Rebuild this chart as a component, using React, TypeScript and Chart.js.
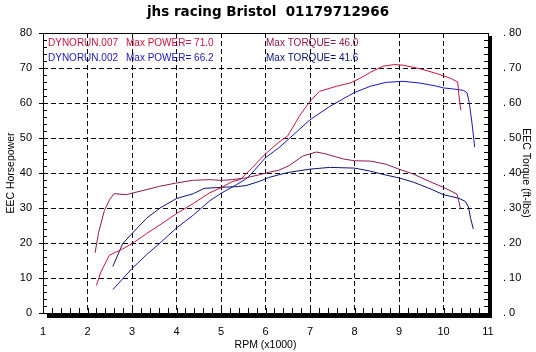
import React, { useEffect, useRef } from "react";
import { Chart, registerables } from "chart.js";

Chart.register(...registerables);

const TITLE = "jhs racing Bristol  01179712966";
const X_TITLE = "RPM (x1000)";
const Y_LEFT_TITLE = "EEC Horsepower";
const Y_RIGHT_TITLE = "EEC Torque (ft-lbs)";

const RUN_A = "DYNORUN.007";
const RUN_B = "DYNORUN.002";
const MAX_POWER_A = "71.0";
const MAX_POWER_B = "66.2";
const MAX_TORQUE_A = "46.0";
const MAX_TORQUE_B = "41.6";

// Run 007 (red)
const rpmPowerA = [2.2, 2.3, 2.49, 2.76, 3.0, 3.33, 3.63, 4.0, 4.38, 4.74, 5.0, 5.25, 5.44, 5.7, 6.0, 6.3, 6.5, 6.76, 7.0, 7.21, 7.6, 7.9, 8.13, 8.36, 8.64, 8.9, 9.09, 9.47, 9.85, 10.15, 10.32, 10.34, 10.39];
const powerA = [7.9, 11.7, 16.5, 18.1, 19.8, 22.7, 25.2, 28.4, 31.3, 34.3, 35.8, 37.5, 38.2, 41.5, 45.5, 48.8, 50.6, 56.2, 60.5, 63.3, 64.8, 65.7, 67.1, 68.8, 70.5, 71.0, 70.8, 69.8, 68.4, 67.1, 66.0, 62.9, 57.9];
const rpmTorqueA = [2.17, 2.25, 2.38, 2.5, 2.6, 2.87, 3.02, 3.25, 3.62, 3.98, 4.36, 4.74, 5.0, 5.26, 5.56, 5.86, 6.07, 6.3, 6.53, 6.83, 7.14, 7.37, 7.75, 8.0, 8.36, 8.71, 9.0, 9.32, 9.7, 10.0, 10.3, 10.34, 10.38];
const torqueA = [17.2, 23.0, 29.3, 32.5, 34.1, 33.8, 34.3, 35.0, 36.2, 37.1, 37.9, 38.1, 37.9, 38.1, 38.6, 39.5, 40.2, 40.8, 42.1, 44.8, 46.0, 45.4, 44.0, 43.5, 43.4, 42.5, 41.1, 39.7, 37.5, 35.9, 34.0, 32.2, 29.8];

// Run 002 (blue)
const rpmPowerB = [2.57, 3.0, 3.33, 3.63, 4.0, 4.38, 4.74, 5.0, 5.34, 5.55, 5.7, 6.0, 6.3, 6.53, 7.0, 7.44, 8.0, 8.36, 8.71, 9.09, 9.47, 9.85, 10.0, 10.23, 10.45, 10.53, 10.58, 10.64, 10.7];
const powerB = [6.7, 12.7, 16.7, 20.0, 24.3, 28.0, 32.0, 34.2, 36.6, 38.2, 40.0, 44.4, 47.2, 49.8, 55.2, 59.0, 63.0, 64.8, 65.9, 66.2, 65.7, 64.8, 64.3, 64.0, 63.6, 62.9, 60.0, 54.3, 47.4];
const rpmTorqueB = [2.57, 2.79, 3.0, 3.33, 3.63, 4.0, 4.38, 4.62, 5.0, 5.34, 5.56, 5.86, 6.07, 6.3, 6.53, 7.0, 7.44, 8.0, 8.33, 8.71, 9.0, 9.32, 9.7, 10.0, 10.34, 10.49, 10.56, 10.61, 10.67];
const torqueB = [13.3, 19.8, 22.7, 27.1, 30.0, 32.7, 34.1, 35.6, 35.9, 36.1, 36.4, 37.6, 38.7, 39.5, 40.2, 41.1, 41.6, 41.4, 40.6, 39.4, 38.6, 37.4, 35.5, 33.8, 32.8, 31.9, 30.3, 27.0, 24.0];

const X_MIN = 1;
const X_MAX = 11;
const Y_MIN = 0;
const Y_MAX = 80;

const C_POWER_A = "#c8143c";
const C_TORQUE_A = "#8c1850";
const C_POWER_B = "#1818b4";
const C_TORQUE_B = "#0c1470";

const FONT = "'Liberation Sans', Arial, sans-serif";

const pts = (xs: number[], ys: number[]) => xs.map((x, i) => ({ x, y: ys[i] }));

const decorPlugin = {
  id: "decor",
  afterDatasetsDraw(chart: any) {
    const { ctx, chartArea } = chart;
    const { left, right, top, bottom } = chartArea;
    const xs = chart.scales.x;
    const ys = chart.scales.y;
    ctx.save();
    ctx.strokeStyle = "#000";
    ctx.lineWidth = 1;
    ctx.setLineDash([]);
    // top and left frame
    ctx.beginPath();
    ctx.moveTo(left, top + 0.5);
    ctx.lineTo(right, top + 0.5);
    ctx.moveTo(left + 0.5, top);
    ctx.lineTo(left + 0.5, bottom);
    ctx.stroke();
    // minor ticks y (every 2)
    ctx.beginPath();
    for (let v = Y_MIN; v <= Y_MAX; v += 2) {
      const py = Math.round(ys.getPixelForValue(v)) + 0.5;
      ctx.moveTo(left, py);
      ctx.lineTo(left + 4, py);
      ctx.moveTo(right - 4, py);
      ctx.lineTo(right, py);
      if (v % 10 === 0) {
        ctx.moveTo(left - 4, py);
        ctx.lineTo(left, py);
      }
    }
    // minor ticks x (every 0.2)
    for (let i = 0; i <= (X_MAX - X_MIN) * 5; i++) {
      const px = Math.round(xs.getPixelForValue(X_MIN + i * 0.2)) + 0.5;
      ctx.moveTo(px, bottom - 5);
      ctx.lineTo(px, bottom);
    }
    ctx.stroke();
    // heavy shadow frame
    ctx.fillStyle = "#000";
    ctx.fillRect(right, top + 3, 4, bottom - top + 2);
    ctx.fillRect(left + 4, bottom, right - left, 5);

    // legend texts
    ctx.font = `10px ${FONT}`;
    ctx.textBaseline = "middle";
    ctx.textAlign = "left";
    const y1 = top + 10;
    const y2 = top + 25.5;
    ctx.fillStyle = C_POWER_A;
    ctx.fillText(RUN_A, left + 5, y1);
    ctx.fillText("Max POWER= " + MAX_POWER_A, left + 83, y1);
    ctx.fillStyle = C_TORQUE_A;
    ctx.fillText("Max TORQUE= " + MAX_TORQUE_A, left + 223, y1);
    ctx.fillStyle = C_POWER_B;
    ctx.fillText(RUN_B, left + 5, y2);
    ctx.fillText("Max POWER= " + MAX_POWER_B, left + 83, y2);
    ctx.fillStyle = C_TORQUE_B;
    ctx.fillText("Max TORQUE= " + MAX_TORQUE_B, left + 223, y2);
    ctx.restore();
  },
};

export default function App() {
  const ref = useRef<HTMLCanvasElement | null>(null);
  useEffect(() => {
    if (!ref.current) return;
    const gridOpts = {
      color: "#000",
      lineWidth: 1,
      drawTicks: false,
    };
    const chart = new Chart(ref.current, {
      type: "scatter",
      data: {
        datasets: [
          { label: "Power 007", data: pts(rpmPowerA, powerA), borderColor: C_POWER_A, yAxisID: "y" },
          { label: "Torque 007", data: pts(rpmTorqueA, torqueA), borderColor: C_TORQUE_A, yAxisID: "y2" },
          { label: "Power 002", data: pts(rpmPowerB, powerB), borderColor: C_POWER_B, yAxisID: "y" },
          { label: "Torque 002", data: pts(rpmTorqueB, torqueB), borderColor: C_TORQUE_B, yAxisID: "y2" },
        ].map((d) => ({ ...d, showLine: true, pointRadius: 0, borderWidth: 1, tension: 0, fill: false })),
      },
      options: {
        responsive: false,
        animation: false,
        layout: { padding: 0 },
        plugins: {
          legend: { display: false },
          tooltip: { enabled: false },
          title: {
            display: true,
            text: TITLE,
            color: "#000",
            font: { family: "'DejaVu Sans', sans-serif", size: 13.5, weight: "bold" },
            padding: { top: 4.5, bottom: 12.3 },
          },
        },
        scales: {
          x: {
            type: "linear",
            min: X_MIN,
            max: X_MAX,
            afterFit: (s: any) => { s.height = 39; },
            ticks: { stepSize: 1, color: "#000", padding: 12.5, font: { family: FONT, size: 11 } },
            grid: { ...gridOpts, borderDash: [5, 3] } as any,
            border: { display: false, dash: [5, 3] },
            title: { display: true, text: X_TITLE, color: "#000", font: { family: FONT, size: 10.5 }, padding: { top: 0, bottom: 1 } },
          },
          y: {
            type: "linear",
            position: "left",
            min: Y_MIN,
            max: Y_MAX,
            afterFit: (s: any) => { s.width = 43; },
            ticks: { stepSize: 10, color: "#000", padding: 11, font: { family: FONT, size: 11 } },
            grid: gridOpts as any,
            border: { display: false, dash: [5, 3] },
            title: { display: true, text: Y_LEFT_TITLE, color: "#000", font: { family: FONT, size: 10.5 }, padding: { top: 4.5, bottom: 0 } },
          },
          y2: {
            type: "linear",
            position: "right",
            min: Y_MIN,
            max: Y_MAX,
            afterFit: (s: any) => { s.width = 48; },
            ticks: { stepSize: 10, color: "#000", padding: 7, font: { family: FONT, size: 11 }, callback: (v: any) => ". " + v },
            grid: { display: false },
            border: { display: false },
            title: { display: true, text: Y_RIGHT_TITLE, color: "#000", font: { family: FONT, size: 10.5 }, padding: { top: 3.5, bottom: 0 } },
          },
        },
      },
      plugins: [decorPlugin],
    } as any);
    return () => chart.destroy();
  }, []);
  return (
    <div style={{ position: "fixed", left: 0, top: 0, width: 536, height: 352, background: "#fff" }}>
      <canvas ref={ref} width={536} height={352} style={{ display: "block" }} />
    </div>
  );
}
